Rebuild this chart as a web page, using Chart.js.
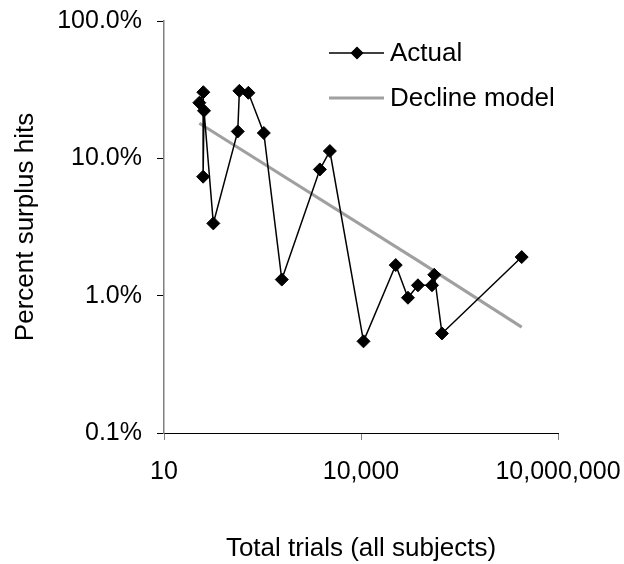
<!DOCTYPE html>
<html>
<head>
<meta charset="utf-8">
<script src="https://cdn.jsdelivr.net/npm/chart.js@4.4.1/dist/chart.umd.min.js"></script>
<style>
  html, body { margin: 0; padding: 0; background: #fff; }
  canvas { display: block; }
</style>
</head>
<body>
<canvas id="chart" width="624" height="564"></canvas>
<script>
// Data
const trials = [34.5, 39.7, 39.4, 40.7, 56.4, 132.8, 140.6, 192.8, 331, 622, 2363, 3357, 10920, 33800, 51900, 73600, 120500, 130600, 171000, 2800000];
const actualPct = [25.4, 30.3, 7.35, 22.2, 3.36, 15.7, 31.0, 30.0, 15.3, 1.31, 8.3, 11.3, 0.465, 1.67, 0.966, 1.19, 1.19, 1.42, 0.531, 1.91];
const modelTrials = [34.5, 73600, 2800000];
const modelPct = [18.0, 1.80, 0.59];
const xTicks = [10, 10000, 10000000];
const yTicks = [0.1, 1, 10, 100];
const seriesNames = ['Actual', 'Decline model'];

const FONT = "'Liberation Sans', Arial, sans-serif";
Chart.defaults.font.family = FONT;
Chart.defaults.color = '#000';

const toPoints = (xs, ys) => xs.map((x, i) => ({ x: x, y: ys[i] }));

// Legend drawn inside the plot, like the original
const legendPlugin = {
    id: 'insideLegend',
    afterDraw(chart) {
        const ctx = chart.ctx;
        const rows = [{ y: 53, ds: chart.data.datasets[0] }, { y: 98, ds: chart.data.datasets[1] }];
        ctx.save();
        rows.forEach(row => {
            ctx.strokeStyle = row.ds.borderColor;
            ctx.lineWidth = row.ds.borderWidth;
            ctx.beginPath();
            ctx.moveTo(329, row.y);
            ctx.lineTo(384, row.y);
            ctx.stroke();
            if (row.ds.pointRadius > 0) {
                Chart.helpers.drawPoint(ctx, {
                    pointStyle: 'rectRot', radius: 5.5, borderWidth: 1
                }, 357, row.y);
                ctx.fillStyle = '#000';
                ctx.fill();
            }
            ctx.fillStyle = '#000';
            ctx.font = '26px ' + FONT;
            ctx.textBaseline = 'middle';
            ctx.textAlign = 'left';
            ctx.fillText(row.ds.label, 390, row.y + 1);
        });
        ctx.restore();
    }
};

new Chart(document.getElementById('chart'), {
    type: 'scatter',
    data: {
        datasets: [{
            label: seriesNames[0],
            data: toPoints(trials, actualPct),
            showLine: true,
            borderColor: '#000',
            backgroundColor: '#000',
            borderWidth: 1.5,
            pointStyle: 'rectRot',
            pointRadius: 6.5,
            pointBorderWidth: 1,
            order: 1
        }, {
            label: seriesNames[1],
            data: toPoints(modelTrials, modelPct),
            showLine: true,
            borderColor: '#a0a0a0',
            backgroundColor: '#a0a0a0',
            borderWidth: 3,
            pointRadius: 0,
            order: 2
        }]
    },
    options: {
        responsive: false,
        animation: false,
        devicePixelRatio: 1,
        layout: { padding: { left: 0, right: 66, top: 21, bottom: 0 } },
        plugins: {
            legend: { display: false },
            tooltip: { enabled: false }
        },
        scales: {
            x: {
                type: 'logarithmic',
                min: 10,
                max: 10000000,
                afterBuildTicks: s => { s.ticks = xTicks.map(v => ({ value: v })); },
                afterFit: s => { s.height = 131; s.paddingLeft = 0; s.paddingRight = 0; },
                border: { display: true, color: '#000', width: 1 },
                grid: { drawOnChartArea: false, drawTicks: true, tickLength: 7, color: '#808080' },
                ticks: {
                    padding: 17,
                    maxRotation: 0,
                    font: { size: 25 },
                    callback: v => Number(v).toLocaleString('en-US')
                },
                title: {
                    display: true,
                    text: 'Total trials (all subjects)',
                    font: { size: 26 },
                    padding: { top: 0, bottom: 0 }
                }
            },
            y: {
                type: 'logarithmic',
                min: 0.1,
                max: 100,
                afterBuildTicks: s => { s.ticks = yTicks.map(v => ({ value: v })); },
                afterFit: s => { s.width = 164; s.paddingTop = 0; s.paddingBottom = 0; },
                border: { display: true, color: '#808080', width: 1.5 },
                grid: { drawOnChartArea: false, drawTicks: true, tickLength: 7, color: '#000' },
                ticks: {
                    padding: 15,
                    font: { size: 25 },
                    callback: v => Number(v).toFixed(1) + '%'
                },
                title: {
                    display: true,
                    text: 'Percent surplus hits',
                    font: { size: 26 },
                    padding: { top: 10, bottom: 0 }
                }
            }
        }
    },
    plugins: [legendPlugin]
});
</script>
</body>
</html>
